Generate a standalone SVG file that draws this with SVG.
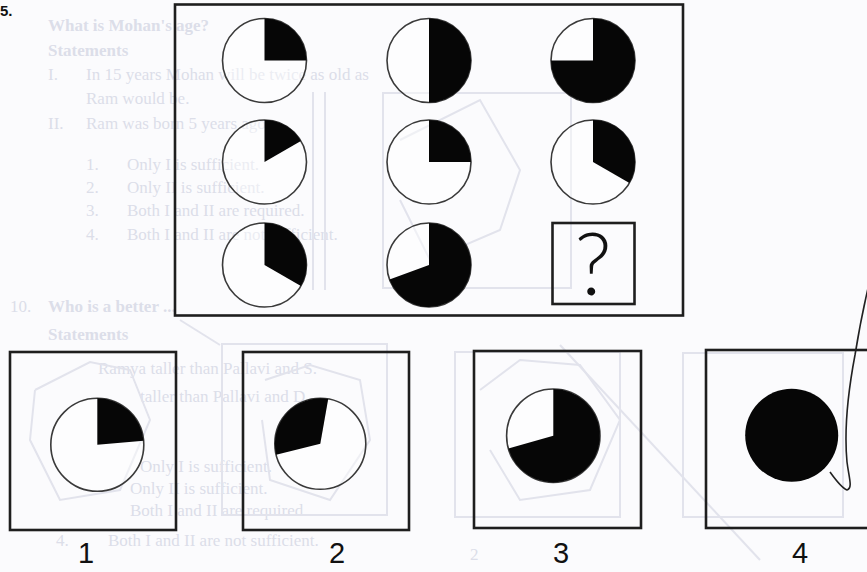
<svg xmlns="http://www.w3.org/2000/svg" width="867" height="572" viewBox="0 0 867 572">
<style>
.bg{fill:#fbfbfd}
.faint{fill:#dcdee9;font-family:"Liberation Serif",serif;font-size:17px}
.fl{fill:none;stroke:#e2e3ec;stroke-width:2}
.frame{fill:none;stroke:#1e1e1e;stroke-width:2.6}
.ring{fill:#fff;fill-opacity:0.45;stroke:#3a3a3a;stroke-width:1.6}
.wedge{fill:#060606}
.lbl{fill:#111;font-family:"Liberation Sans",Arial,sans-serif;font-size:29px;text-anchor:middle}
</style>
<rect class="bg" x="0" y="0" width="867" height="572"/>

<g id="bleed-through">
  <text class="faint" x="48" y="31" font-weight="bold">What is Mohan's age?</text>
  <text class="faint" x="48" y="56" font-weight="bold">Statements</text>
  <text class="faint" x="48" y="80">I.</text>
  <text class="faint" x="86" y="80">In 15 years Mohan will be twice as old as</text>
  <text class="faint" x="86" y="104">Ram would be.</text>
  <text class="faint" x="48" y="129">II.</text>
  <text class="faint" x="86" y="129">Ram was born 5 years ago.</text>
  <text class="faint" x="86" y="170">1.</text>
  <text class="faint" x="127" y="170">Only I is sufficient.</text>
  <text class="faint" x="86" y="193">2.</text>
  <text class="faint" x="127" y="193">Only II is sufficient.</text>
  <text class="faint" x="86" y="216">3.</text>
  <text class="faint" x="127" y="216">Both I and II are required.</text>
  <text class="faint" x="86" y="240">4.</text>
  <text class="faint" x="127" y="240">Both I and II are not sufficient.</text>
  <text class="faint" x="10" y="312">10.</text>
  <text class="faint" x="48" y="312" font-weight="bold">Who is a better ...</text>
  <text class="faint" x="48" y="340" font-weight="bold">Statements</text>
  <text class="faint" x="98" y="374">Ramya taller than Pallavi and S.</text>
  <text class="faint" x="140" y="402">taller than Pallavi and D</text>
  <text class="faint" x="140" y="472">Only I is sufficient.</text>
  <text class="faint" x="130" y="494">Only II is sufficient.</text>
  <text class="faint" x="130" y="516">Both I and II are required.</text>
  <text class="faint" x="56" y="546">4.</text>
  <text class="faint" x="108" y="546" font-size="16">Both I and II are not sufficient.</text>
  <text class="faint" x="470" y="560">2</text>
  <rect class="fl" x="383" y="93" width="188" height="195"/>
  <line class="fl" x1="313" y1="92" x2="313" y2="290"/>
  <line class="fl" x1="325" y1="92" x2="325" y2="290"/>
  <polyline class="fl" points="400,140 480,100 520,170 500,230 430,260 400,200"/>
  <rect class="fl" x="222" y="344" width="165" height="171"/>
  <rect class="fl" x="455" y="352" width="165" height="165"/>
  <rect class="fl" x="683" y="353" width="160" height="164"/>
  <polyline class="fl" points="35,390 90,362 130,370 150,420 120,490 60,500 30,440 35,390"/>
  <polyline class="fl" points="265,380 310,365 360,380 370,440 330,500 270,480 262,420"/>
  <polyline class="fl" points="480,390 520,360 580,365 620,420 590,490 520,500 490,450"/>
  <line class="fl" x1="560" y1="345" x2="760" y2="560"/>
  <line class="fl" x1="180" y1="320" x2="220" y2="345"/>
</g>

<text x="0" y="16" fill="#111" font-family="Liberation Sans,Arial,sans-serif" font-size="15" font-weight="bold">5.</text>

<g id="question-panel">
  <rect class="frame" x="175" y="4.5" width="508" height="311"/>
</g>

<g id="c11">
  <circle class="ring" cx="264.5" cy="60.5" r="42"/>
  <path class="wedge" d="M264.5,60.5 V18.5 A42,42 0 0 1 306.5,60.5 Z"/>
</g>
<g id="c21">
  <circle class="ring" cx="264.5" cy="162" r="42"/>
  <path class="wedge" d="M264.5,162 V120 A42,42 0 0 1 300.9,141 Z"/>
</g>
<g id="c31">
  <circle class="ring" cx="264.5" cy="265" r="42"/>
  <path class="wedge" d="M264.5,265 V223 A42,42 0 0 1 300.9,286 Z"/>
</g>
<g id="c12">
  <circle class="ring" cx="429" cy="60.5" r="42"/>
  <path class="wedge" d="M429,60.5 V18.5 A42,42 0 0 1 429,102.5 Z"/>
</g>
<g id="c22">
  <circle class="ring" cx="429" cy="162" r="42"/>
  <path class="wedge" d="M429,162 V120 A42,42 0 0 1 471,162 Z"/>
</g>
<g id="c32">
  <circle class="ring" cx="429" cy="265" r="42"/>
  <path class="wedge" d="M429,265 V223 A42,42 0 1 1 389.5,279.4 Z"/>
</g>
<g id="c13">
  <circle class="ring" cx="593" cy="60.5" r="42"/>
  <path class="wedge" d="M593,60.5 V18.5 A42,42 0 1 1 551,60.5 Z"/>
</g>
<g id="c23">
  <circle class="ring" cx="593" cy="162" r="42"/>
  <path class="wedge" d="M593,162 V120 A42,42 0 0 1 629.4,183 Z"/>
</g>
<g id="c33-question">
  <rect class="frame" x="552.5" y="223" width="82" height="81" fill="#fff" stroke-width="2.2"/>
  <text x="593" y="295" fill="#111" font-family="Lato,'Liberation Sans',sans-serif" font-weight="300" font-size="86" text-anchor="middle">?</text>
</g>

<g id="option1">
  <rect class="frame" x="10" y="352" width="166" height="178"/>
  <circle class="ring" cx="97.3" cy="444.8" r="46.5"/>
  <path class="wedge" d="M97.3,444.8 V398.3 A46.5,46.5 0 0 1 143.6,440.8 Z"/>
  <text class="lbl" x="86" y="563">1</text>
</g>
<g id="option2">
  <rect class="frame" x="243" y="352" width="166" height="178"/>
  <circle class="ring" cx="320.3" cy="443.8" r="45.5"/>
  <path class="wedge" d="M320.3,443.8 L276.2,454.8 A45.5,45.5 0 0 1 328.2,399 Z"/>
  <text class="lbl" x="337" y="563">2</text>
</g>
<g id="option3">
  <rect class="frame" x="474" y="351" width="167" height="177"/>
  <circle class="ring" cx="553.3" cy="435.7" r="46.7"/>
  <path class="wedge" d="M553.3,435.7 V389 A46.7,46.7 0 1 1 508.4,448.6 Z"/>
  <text class="lbl" x="561" y="563">3</text>
</g>
<g id="option4">
  <rect class="frame" x="706" y="350" width="180" height="178"/>
  <circle cx="791.7" cy="435.3" r="46.5" fill="#060606"/>
  <text class="lbl" x="800" y="563">4</text>
</g>

<g id="connectors">
  <path d="M869,284 C864,305 859,330 855,355 C848,392 844,430 847,462 C849,478 853,488 847,490 C842,488 835,479 830,472" fill="none" stroke="#222" stroke-width="1.6"/>
</g>
</svg>
